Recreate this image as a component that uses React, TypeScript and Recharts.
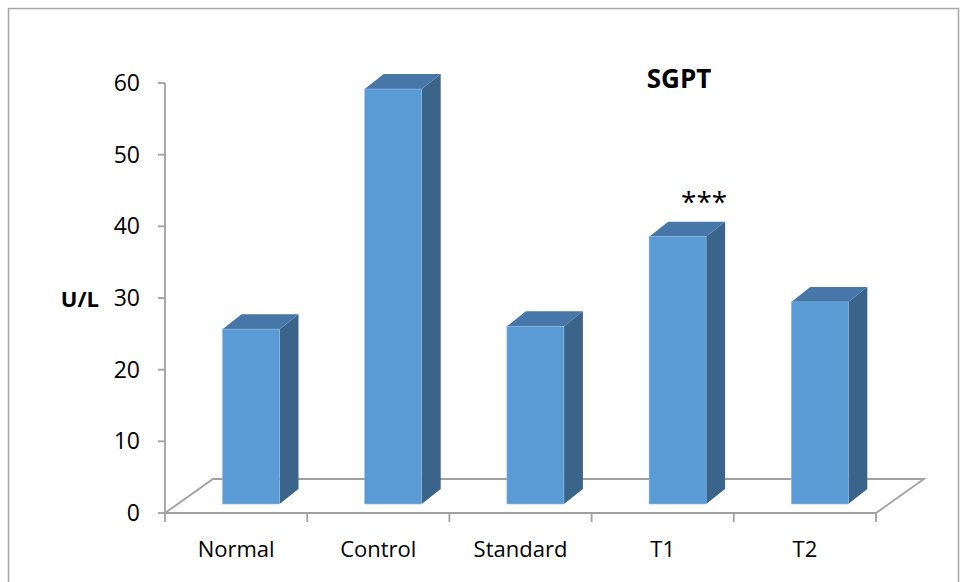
import React from 'react';
import { BarChart, Bar, XAxis, YAxis, LabelList, Customized } from 'recharts';

const categories = ['Normal', 'Control', 'Standard', 'T1', 'T2'];
const sgptValues = [24.4, 57.9, 24.8, 37.3, 28.2];
const significance = ['', '', '', '***', ''];
const yTicks = [0, 10, 20, 30, 40, 50, 60];
const chartTitle = 'SGPT';
const yAxisTitle = 'U/L';

const data = categories.map((name, i) => ({ name, value: sgptValues[i], sig: significance[i] }));

// layout constants
const W = 961;
const H = 582;
const PLOT_LEFT = 165;
const PLOT_RIGHT = 876;
const PLOT_TOP = 83;
const PLOT_BOTTOM = 513;
const BAND = (PLOT_RIGHT - PLOT_LEFT) / categories.length;
const FLOOR_DX = 48;
const FLOOR_DY = -34;
const BAR_SHIFT_X = 14.5;
const BAR_SHIFT_Y = -9;
const DEPTH_DX = 19;
const DEPTH_DY = -15;
const AXIS_COLOR = '#a0a0a0';
const FONT = '"Open Sans", sans-serif';

const FRONT = '#5B9BD5';
const TOP = '#4776A8';
const SIDE = '#3A6489';

const Bar3D = (props: any) => {
  const { x, y, width, height } = props;
  if (width == null || height == null) return null;
  const fx = x + BAR_SHIFT_X;
  const fy = y + BAR_SHIFT_Y;
  const w = width;
  const h = height;
  const top = `${fx},${fy} ${fx + w},${fy} ${fx + w + DEPTH_DX},${fy + DEPTH_DY} ${fx + DEPTH_DX},${fy + DEPTH_DY}`;
  const side = `${fx + w},${fy} ${fx + w + DEPTH_DX},${fy + DEPTH_DY} ${fx + w + DEPTH_DX},${fy + h + DEPTH_DY} ${fx + w},${fy + h}`;
  return (
    <g>
      <polygon points={side} fill={SIDE} />
      <polygon points={top} fill={TOP} />
      <rect x={fx} y={fy} width={w} height={h} fill={FRONT} stroke="#8fbbe3" strokeWidth={0.6} />
    </g>
  );
};

const SigLabel = (props: any) => {
  const { x, y, width, value } = props;
  if (!value) return null;
  return (
    <text x={x + width / 2 + 41} y={y - 34} textAnchor="middle" fontSize={28} fontFamily={FONT} fill="#000">
      {value}
    </text>
  );
};

const XTick = (props: any) => {
  const { x, payload, index } = props;
  const left = x - BAND / 2;
  const right = x + BAND / 2;
  return (
    <g>
      <line x1={left} y1={PLOT_BOTTOM} x2={left} y2={PLOT_BOTTOM + 9} stroke={AXIS_COLOR} strokeWidth={1.8} />
      {index === categories.length - 1 && (
        <line x1={right} y1={PLOT_BOTTOM} x2={right} y2={PLOT_BOTTOM + 9} stroke={AXIS_COLOR} strokeWidth={1.8} />
      )}
      <text x={x} y={PLOT_BOTTOM + 44} textAnchor="middle" fontSize={22} fontFamily={FONT} fill="#000">
        {payload.value}
      </text>
    </g>
  );
};

const YLabel = (props: any) => {
  const vb = props.viewBox || { x: 0, y: PLOT_TOP, width: PLOT_LEFT, height: PLOT_BOTTOM - PLOT_TOP };
  return (
    <text x={vb.x + 99} y={vb.y + vb.height / 2 + 9} textAnchor="end" fontSize={22} fontWeight="bold" fontFamily={FONT} fill="#000">
      {yAxisTitle}
    </text>
  );
};

const Decor = () => (
  <g>
    <rect x={8.5} y={8.5} width={950} height={620} fill="none" stroke="#a6a6a6" strokeWidth={1.5} />
    <polyline
      points={`${PLOT_LEFT},${PLOT_BOTTOM} ${PLOT_LEFT + FLOOR_DX},${PLOT_BOTTOM + FLOOR_DY} ${PLOT_RIGHT + FLOOR_DX},${PLOT_BOTTOM + FLOOR_DY} ${PLOT_RIGHT},${PLOT_BOTTOM}`}
      fill="none"
      stroke={AXIS_COLOR}
      strokeWidth={1.8}
    />
    <text x={679} y={88} textAnchor="middle" fontSize={26} fontWeight="bold" fontFamily={FONT} fill="#000">
      {chartTitle}
    </text>
  </g>
);

export default function App() {
  return (
    <div style={{ width: W, height: H, background: '#fff' }}>
      <style>{'body{margin:0;background:#fff;}'}</style>
      <BarChart
        width={W}
        height={H}
        data={data}
        margin={{ top: PLOT_TOP, right: W - PLOT_RIGHT, bottom: 0, left: 0 }}
        barSize={57}
      >
        <Customized component={<Decor />} />
        <XAxis
          dataKey="name"
          height={H - PLOT_BOTTOM}
          interval={0}
          tickLine={false}
          axisLine={{ stroke: AXIS_COLOR, strokeWidth: 1.8 }}
          tick={<XTick />}
        />
        <YAxis
          width={PLOT_LEFT}
          domain={[0, 60]}
          ticks={yTicks}
          interval={0}
          tickSize={7}
          tickMargin={18}
          axisLine={{ stroke: AXIS_COLOR, strokeWidth: 1.8 }}
          tickLine={{ stroke: AXIS_COLOR, strokeWidth: 1.8 }}
          tick={{ fontSize: 23, fill: '#000', fontFamily: FONT }}
          label={<YLabel />}
        />
        <Bar dataKey="value" shape={<Bar3D />} isAnimationActive={false}>
          <LabelList dataKey="sig" content={<SigLabel />} />
        </Bar>
      </BarChart>
    </div>
  );
}
